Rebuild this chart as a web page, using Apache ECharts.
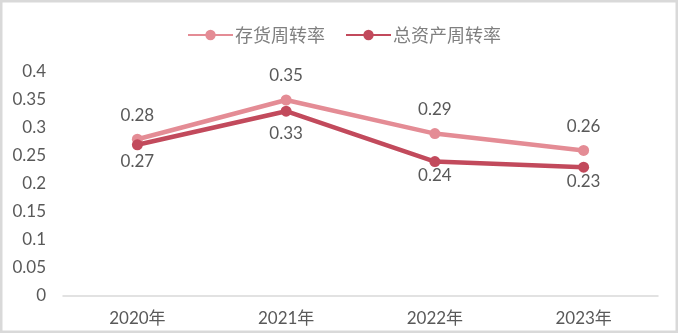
<!DOCTYPE html>
<html>
<head>
<meta charset="utf-8">
<script src="https://cdn.jsdelivr.net/npm/echarts@6/dist/echarts.min.js"></script>
<style>
  html, body { margin: 0; padding: 0; background: #fff; }
  #chart { width: 678px; height: 333px; }
</style>
</head>
<body>
<div id="chart"></div>
<script>
// Turnover ratios by year
const years = ['2020年', '2021年', '2022年', '2023年'];
const inventoryTurnover = [0.28, 0.35, 0.29, 0.26];
const assetTurnover = [0.27, 0.33, 0.24, 0.23];
const seriesNames = ['存货周转率', '总资产周转率'];

// label gap below the darker line, per year
const lowerLabelGap = [3, 8, 0, 0];

const latin = 'Lato, "Noto Sans CJK SC", sans-serif';
const textColor = '#595959';

const chart = echarts.init(document.getElementById('chart'), null, { renderer: 'canvas' });

chart.setOption({
  animation: false,
  backgroundColor: '#fff',
  graphic: [{
    type: 'rect',
    shape: { x: 1.25, y: 1.25, width: 675.5, height: 330.5 },
    style: { fill: 'none', stroke: '#d9d9d9', lineWidth: 2.5 },
    silent: true
  }],
  legend: {
    top: 21,
    left: 182,
    itemWidth: 45,
    itemHeight: 13,
    itemGap: 20,
    textStyle: { fontFamily: '"Noto Sans CJK SC", sans-serif', fontSize: 18, color: '#7f7f7f', padding: [0, 0, 0, -3] },
    data: seriesNames
  },
  grid: { left: 63, right: 20, top: 72, bottom: 37 },
  xAxis: {
    type: 'category',
    data: years,
    boundaryGap: true,
    axisLine: { lineStyle: { color: '#d9d9d9', width: 1.5 } },
    axisTick: { show: false },
    axisLabel: { color: textColor, fontSize: 17, fontFamily: latin, margin: 14 }
  },
  yAxis: {
    type: 'value',
    min: 0,
    max: 0.4,
    interval: 0.05,
    axisLine: { show: false },
    axisTick: { show: false },
    splitLine: { show: false },
    axisLabel: {
      color: textColor, fontSize: 17, fontFamily: latin, margin: 17,
      formatter: v => String(parseFloat(v.toFixed(2)))
    }
  },
  series: [
    {
      name: seriesNames[0],
      type: 'line',
      data: inventoryTurnover,
      symbol: 'circle',
      symbolSize: 11,
      itemStyle: { color: '#E48C95' },
      lineStyle: { width: 4.5, color: '#E48C95' },
      label: {
        show: true, position: 'top', distance: 10,
        color: textColor, fontSize: 17, fontFamily: latin
      },
      z: 2
    },
    {
      name: seriesNames[1],
      type: 'line',
      data: assetTurnover.map((v, i) => ({
        value: v,
        label: { distance: lowerLabelGap[i] }
      })),
      symbol: 'circle',
      symbolSize: 11,
      itemStyle: { color: '#C24A5C' },
      lineStyle: { width: 4.5, color: '#C24A5C' },
      label: {
        show: true, position: 'bottom',
        color: textColor, fontSize: 17, fontFamily: latin
      },
      z: 3
    }
  ]
});
</script>
</body>
</html>
